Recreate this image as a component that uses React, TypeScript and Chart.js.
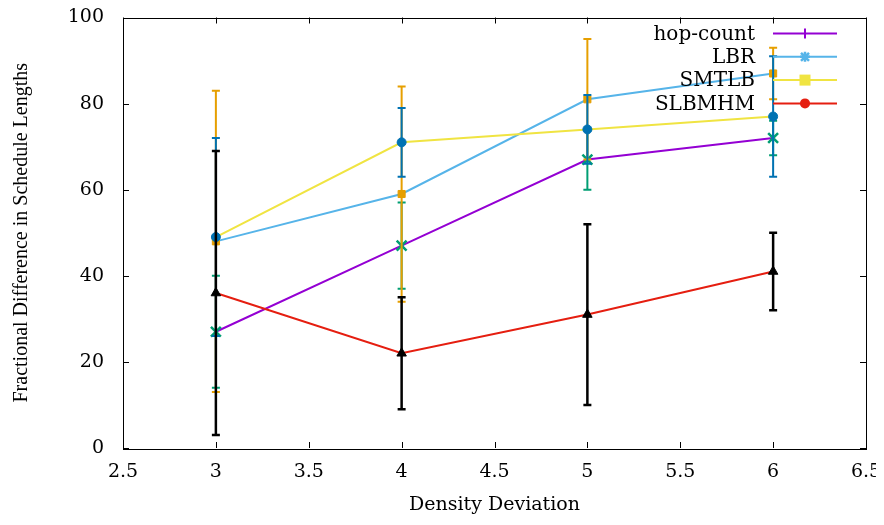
import React, { useEffect, useRef } from "react";
import { Chart, registerables } from "chart.js";

Chart.register(...registerables);

const xValues = [3, 4, 5, 6];
const hopCount = [27, 47, 67, 72];
const hopCountErr = [13, 10, 7, 4];
const lbr = [48, 59, 81, 87];
const lbrErr = [35, 25, 14, 6];
const smtlb = [49, 71, 74, 77];
const smtlbErr = [23, 8, 8, 14];
const slbmhm = [36, 22, 31, 41];
const slbmhmErr = [33, 13, 21, 9];

const xTicks = [2.5, 3, 3.5, 4, 4.5, 5, 5.5, 6, 6.5];
const yTicks = [0, 20, 40, 60, 80, 100];

const seriesNames = ["hop-count", "LBR", "SMTLB", "SLBMHM"];
const lineColors = ["#9400d3", "#56b4e9", "#f0e442", "#e51e10"];
const errColors = ["#009e73", "#e69f00", "#0072b2", "#000000"];

const pts = (vals: number[]) => xValues.map((x, i) => ({ x, y: vals[i] }));

const FONT = "DejaVu Serif";

const framePlugin = {
  id: "frame",
  beforeDatasetsDraw(chart: any) {
    const { ctx, chartArea } = chart;
    const xs = chart.scales.x;
    const ys = chart.scales.y;
    const t = 6;
    ctx.save();
    ctx.strokeStyle = "#000";
    ctx.lineWidth = 1;
    ctx.beginPath();
    xTicks.forEach((v) => {
      const px = Math.round(xs.getPixelForValue(v)) + 0.5;
      ctx.moveTo(px, chartArea.bottom);
      ctx.lineTo(px, chartArea.bottom - t);
      ctx.moveTo(px, chartArea.top);
      ctx.lineTo(px, chartArea.top + t);
    });
    yTicks.forEach((v) => {
      const py = Math.round(ys.getPixelForValue(v)) + 0.5;
      ctx.moveTo(chartArea.left, py);
      ctx.lineTo(chartArea.left + t, py);
      ctx.moveTo(chartArea.right, py);
      ctx.lineTo(chartArea.right - t, py);
    });
    ctx.stroke();
    ctx.strokeRect(
      Math.round(chartArea.left) + 0.5,
      Math.round(chartArea.top) + 0.5,
      Math.round(chartArea.right - chartArea.left),
      Math.round(chartArea.bottom - chartArea.top)
    );
    ctx.restore();
  },
};

const errorBarPlugin = {
  id: "errorBars",
  beforeDatasetDraw(chart: any, args: any) {
    const ds = chart.data.datasets[args.index];
    if (!ds.errors) return;
    const { ctx } = chart;
    const xs = chart.scales.x;
    const ys = chart.scales.y;
    ctx.save();
    ctx.strokeStyle = ds.errColor;
    ctx.lineWidth = ds.errWidth || 2;
    ctx.beginPath();
    ds.data.forEach((p: any, i: number) => {
      const e = ds.errors[i];
      const px = xs.getPixelForValue(p.x);
      const top = ys.getPixelForValue(p.y + e);
      const bot = ys.getPixelForValue(p.y - e);
      ctx.moveTo(px, top);
      ctx.lineTo(px, bot);
      ctx.moveTo(px - 4, top);
      ctx.lineTo(px + 4, top);
      ctx.moveTo(px - 4, bot);
      ctx.lineTo(px + 4, bot);
    });
    ctx.stroke();
    ctx.restore();
  },
};

const legendPlugin = {
  id: "gpLegend",
  afterDatasetsDraw(chart: any) {
    const { ctx, chartArea } = chart;
    ctx.save();
    ctx.font = `20px "${FONT}"`;
    ctx.textAlign = "right";
    ctx.textBaseline = "middle";
    seriesNames.forEach((name, i) => {
      const y = chartArea.top + 16 + i * 23.3;
      ctx.fillStyle = "#000";
      ctx.fillText(name, chartArea.right - 111, y + 1);
      const x0 = chartArea.right - 93;
      const x1 = chartArea.right - 29;
      const mx = chartArea.right - 61;
      ctx.strokeStyle = lineColors[i];
      ctx.lineWidth = 2;
      ctx.beginPath();
      ctx.moveTo(x0, y);
      ctx.lineTo(x1, y);
      ctx.stroke();
      ctx.fillStyle = lineColors[i];
      ctx.beginPath();
      if (i === 0) {
        ctx.moveTo(mx, y - 5);
        ctx.lineTo(mx, y + 5);
        ctx.stroke();
      } else if (i === 1) {
        ctx.moveTo(mx - 5, y);
        ctx.lineTo(mx + 5, y);
        ctx.moveTo(mx, y - 5);
        ctx.lineTo(mx, y + 5);
        ctx.moveTo(mx - 4, y - 4);
        ctx.lineTo(mx + 4, y + 4);
        ctx.moveTo(mx - 4, y + 4);
        ctx.lineTo(mx + 4, y - 4);
        ctx.lineWidth = 2.5;
        ctx.stroke();
      } else if (i === 2) {
        ctx.fillRect(mx - 5.5, y - 5.5, 11, 11);
      } else {
        ctx.arc(mx, y, 5, 0, Math.PI * 2);
        ctx.fill();
      }
    });
    ctx.restore();
  },
};

export default function App() {
  const ref = useRef<HTMLCanvasElement | null>(null);

  useEffect(() => {
    if (!ref.current) return;
    Chart.defaults.font.family = FONT;
    Chart.defaults.color = "#000";

    const lineDs = (i: number, vals: number[]) => ({
      label: seriesNames[i],
      data: pts(vals),
      borderColor: lineColors[i],
      backgroundColor: lineColors[i],
      borderWidth: 2,
      pointRadius: 0,
      tension: 0,
      showLine: true,
    });
    const errDs = (i: number, vals: number[], errs: number[], style: string, radius: number, width = 2) => ({
      label: seriesNames[i] + " err",
      data: pts(vals),
      errors: errs,
      errColor: errColors[i],
      errWidth: width,
      showLine: false,
      pointStyle: style,
      pointRadius: radius,
      pointBorderWidth: style === "crossRot" ? 2.5 : 1,
      pointBackgroundColor: errColors[i],
      pointBorderColor: errColors[i],
    });

    const chart = new Chart(ref.current, {
      type: "scatter",
      data: {
        datasets: [
          errDs(3, slbmhm, slbmhmErr, "triangle", 5.5, 2.5),
          errDs(2, smtlb, smtlbErr, "circle", 4.5),
          errDs(1, lbr, lbrErr, "rect", 5),
          errDs(0, hopCount, hopCountErr, "crossRot", 7),
          lineDs(3, slbmhm),
          lineDs(2, smtlb),
          lineDs(1, lbr),
          lineDs(0, hopCount),
        ] as any,
      },
      options: {
        animation: false,
        responsive: true,
        maintainAspectRatio: false,
        layout: { padding: { left: 0, top: 7, right: 10, bottom: 0 } },
        plugins: { legend: { display: false }, tooltip: { enabled: false } },
        scales: {
          x: {
            type: "linear",
            min: 2.5,
            max: 6.5,
            grid: { display: false, drawTicks: false },
            border: { display: false },
            ticks: {
              stepSize: 0.5,
              padding: 13,
              font: { size: 19 },
              color: "#000",
              maxRotation: 0,
              callback: (v: any) => String(Number(v)),
            },
            title: {
              display: true,
              text: "Density Deviation",
              font: { size: 19, family: FONT },
              color: "#000",
              padding: { top: 0, bottom: 1 },
            },
            afterFit(scale: any) {
              scale.height = 69;
              scale.paddingLeft = 0;
              scale.paddingRight = 0;
            },
          },
          y: {
            type: "linear",
            min: 0,
            max: 100,
            grid: { display: false, drawTicks: false },
            border: { display: false },
            ticks: {
              stepSize: 20,
              padding: 19,
              font: { size: 19 },
              color: "#000",
              callback: (v: any) => String(Number(v)),
            },
            title: {
              display: true,
              text: "Fractional Difference in Schedule Lengths",
              font: { size: 20, family: "Liberation Serif" },
              color: "#000",
              padding: { top: 2, bottom: 0 },
            },
            afterFit(scale: any) {
              scale.width = 115;
              scale.paddingTop = 0;
              scale.paddingBottom = 0;
            },
          },
        },
      },
      plugins: [framePlugin, errorBarPlugin, legendPlugin],
    });
    return () => chart.destroy();
  }, []);

  return (
    <div style={{ width: 868, height: 509, position: "relative" }}>
      <canvas ref={ref} />
    </div>
  );
}
